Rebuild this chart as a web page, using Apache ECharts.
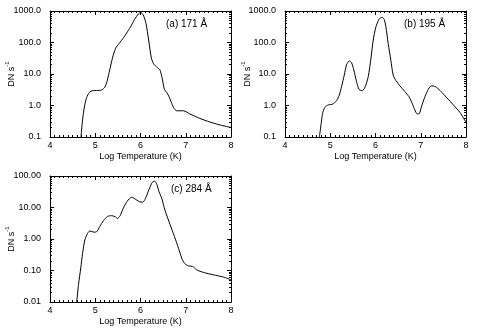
<!DOCTYPE html>
<html>
<head>
<meta charset="utf-8">
<script src="https://cdn.jsdelivr.net/npm/echarts@6/dist/echarts.min.js"></script>
<style>
  html, body { margin: 0; padding: 0; background: #fff; }
  #chart { width: 477px; height: 335px; }
</style>
</head>
<body>
<div id="chart"></div>
<script>
// Temperature response curves (DN s^-1) vs log temperature for three EUV passbands.
var logT171 = [4.685, 4.72, 4.76, 4.81, 4.87, 4.94, 5.03, 5.14, 5.21, 5.26, 5.32, 5.38, 5.45, 5.53, 5.63, 5.76, 5.87, 5.95, 6.00, 6.06, 6.12, 6.18, 6.24, 6.29, 6.37, 6.43, 6.48, 6.53, 6.58, 6.63, 6.69, 6.74, 6.80, 6.95, 7.09, 7.31, 7.53, 7.76, 8.00];
var dn171   = [0.1, 0.35, 0.9, 1.8, 2.6, 2.95, 3.0, 3.1, 3.8, 5.8, 13.5, 32, 66, 94, 146, 280, 540, 800, 900, 750, 410, 120, 32, 21, 16, 13.5, 7.2, 3.2, 2.6, 1.9, 1.17, 0.81, 0.68, 0.68, 0.54, 0.39, 0.30, 0.24, 0.20];

var logT195 = [4.76, 4.80, 4.83, 4.88, 4.96, 5.05, 5.14, 5.20, 5.25, 5.31, 5.36, 5.42, 5.47, 5.52, 5.58, 5.64, 5.71, 5.78, 5.84, 5.90, 5.95, 6.01, 6.08, 6.14, 6.19, 6.23, 6.28, 6.34, 6.39, 6.45, 6.54, 6.65, 6.74, 6.81, 6.87, 6.92, 6.97, 7.02, 7.08, 7.15, 7.23, 7.32, 7.43, 7.57, 7.72, 7.87, 8.00];
var dn195   = [0.1, 0.27, 0.56, 0.87, 1.05, 1.1, 1.42, 2.15, 4.0, 9.3, 19.5, 26, 23, 13.5, 5.8, 3.2, 2.95, 4.2, 8.3, 32, 120, 316, 550, 630, 550, 316, 93, 27, 9.3, 6.2, 4.2, 2.75, 1.9, 1.17, 0.72, 0.54, 0.56, 0.96, 1.7, 2.95, 4.2, 4.0, 2.95, 1.8, 1.05, 0.59, 0.29];

var logT284 = [4.59, 4.63, 4.68, 4.72, 4.77, 4.83, 4.88, 4.97, 5.03, 5.10, 5.18, 5.27, 5.36, 5.44, 5.49, 5.55, 5.62, 5.71, 5.80, 5.88, 5.97, 6.05, 6.11, 6.19, 6.26, 6.31, 6.36, 6.41, 6.47, 6.54, 6.65, 6.75, 6.84, 6.91, 6.97, 7.06, 7.15, 7.24, 7.39, 7.61, 7.83, 8.00];
var dn284   = [0.01, 0.036, 0.12, 0.35, 0.93, 1.5, 1.8, 1.65, 1.7, 2.5, 3.8, 5.2, 5.5, 5.1, 4.5, 5.5, 9.5, 16, 21, 18.7, 15.4, 14.8, 19.5, 38, 63, 69, 55, 31.6, 19.5, 8.3, 2.95, 1.2, 0.51, 0.25, 0.17, 0.14, 0.135, 0.105, 0.087, 0.073, 0.062, 0.051];

var xTicks = [4, 5, 6, 7, 8];
var panelTitles = ['(a) 171 Å', '(b) 195 Å', '(c) 284 Å'];
var yRanges = [[-1, 3], [-1, 3], [-2, 2]];   // decades shown on each panel
var yDecimals = [1, 1, 2];

var FONT = 'Liberation Sans';
var grids = [
  { left: 50,  top: 11,  width: 181, height: 126 },
  { left: 285, top: 11,  width: 181, height: 126 },
  { left: 50,  top: 176, width: 181, height: 126 }
];
var titlePos = [[166, 25], [404, 25], [171, 190]];
var unitPos = [[10.5, 74], [246, 74], [10.5, 239]];   // centre of the rotated y-axis title
var series = [[logT171, dn171], [logT195, dn195], [logT284, dn284]];

function minorLogTicks(lo, hi) {
  var out = [];
  for (var d = lo; d < hi; d++) {
    for (var k = 2; k <= 9; k++) out.push(d + Math.log10(k));
  }
  return out;
}

var option = {
  backgroundColor: '#fff',
  animation: false,
  grid: [], xAxis: [], yAxis: [], series: [], graphic: []
};

grids.forEach(function (g, i) {
  option.grid.push(Object.assign({ outerBoundsMode: 'none', containLabel: false }, g));
  var r = yRanges[i];
  var axisLine = { show: true, onZero: false, lineStyle: { color: '#000', width: 1 } };
  var xBase = {
    type: 'value', gridIndex: i, min: xTicks[0], max: xTicks[xTicks.length - 1], interval: 1,
    axisLine: axisLine, splitLine: { show: false },
    axisTick: { inside: true, length: 4, lineStyle: { color: '#000' } },
    minorTick: { show: true, splitNumber: 10, length: 2, lineStyle: { color: '#000' } }
  };
  option.xAxis.push(Object.assign({}, xBase, {
    position: 'bottom',
    name: 'Log Temperature (K)', nameLocation: 'middle', nameGap: 15,
    nameTextStyle: { fontFamily: FONT, fontSize: 9, color: '#000' },
    axisLabel: { margin: 4, fontFamily: FONT, fontSize: 9, color: '#000' }
  }));
  option.xAxis.push(Object.assign({}, xBase, { position: 'top', axisLabel: { show: false } }));

  var yMajor = {
    type: 'value', gridIndex: i, min: r[0], max: r[1], interval: 1,
    axisLine: axisLine, splitLine: { show: false },
    axisTick: { inside: true, length: 4, lineStyle: { color: '#000' } }
  };
  var dec = yDecimals[i];
  option.yAxis.push(Object.assign({}, yMajor, {
    position: 'left',
    axisLabel: {
      margin: 9, fontFamily: FONT, fontSize: 9, color: '#000',
      formatter: function (v) { return Math.pow(10, v).toFixed(dec); }
    }
  }));
  option.yAxis.push(Object.assign({}, yMajor, { position: 'right', axisLabel: { show: false } }));
  var minor = minorLogTicks(r[0], r[1]);
  ['left', 'right'].forEach(function (pos) {
    option.yAxis.push({
      type: 'value', gridIndex: i, min: r[0], max: r[1], position: pos,
      axisLine: { show: false, onZero: false }, splitLine: { show: false }, axisLabel: { show: false },
      axisTick: { show: true, inside: true, length: 2, customValues: minor, lineStyle: { color: '#000' } }
    });
  });

  var xs = series[i][0], ys = series[i][1];
  option.series.push({
    type: 'line', xAxisIndex: i * 2, yAxisIndex: i * 4,
    data: xs.map(function (x, k) { return [x, Math.log10(ys[k])]; }),
    showSymbol: false, smooth: 0.25, clip: true,
    lineStyle: { color: '#000', width: 1 }
  });

  option.graphic.push({
    type: 'text', left: titlePos[i][0], top: titlePos[i][1] - 6,
    style: { text: panelTitles[i], fontFamily: FONT, fontSize: 10, fill: '#000' }
  });
  option.graphic.push({
    type: 'text', x: unitPos[i][0], y: unitPos[i][1], rotation: Math.PI / 2,
    style: {
      text: '{a|DN s}{b|-1}', align: 'center', verticalAlign: 'middle',
      rich: {
        a: { fontFamily: FONT, fontSize: 9, fill: '#000', verticalAlign: 'bottom', lineHeight: 12 },
        b: { fontFamily: FONT, fontSize: 6, fill: '#000', verticalAlign: 'top', lineHeight: 12 }
      }
    }
  });
});

var chart = echarts.init(document.getElementById('chart'), null, { renderer: 'canvas' });
chart.setOption(option);
</script>
</body>
</html>
